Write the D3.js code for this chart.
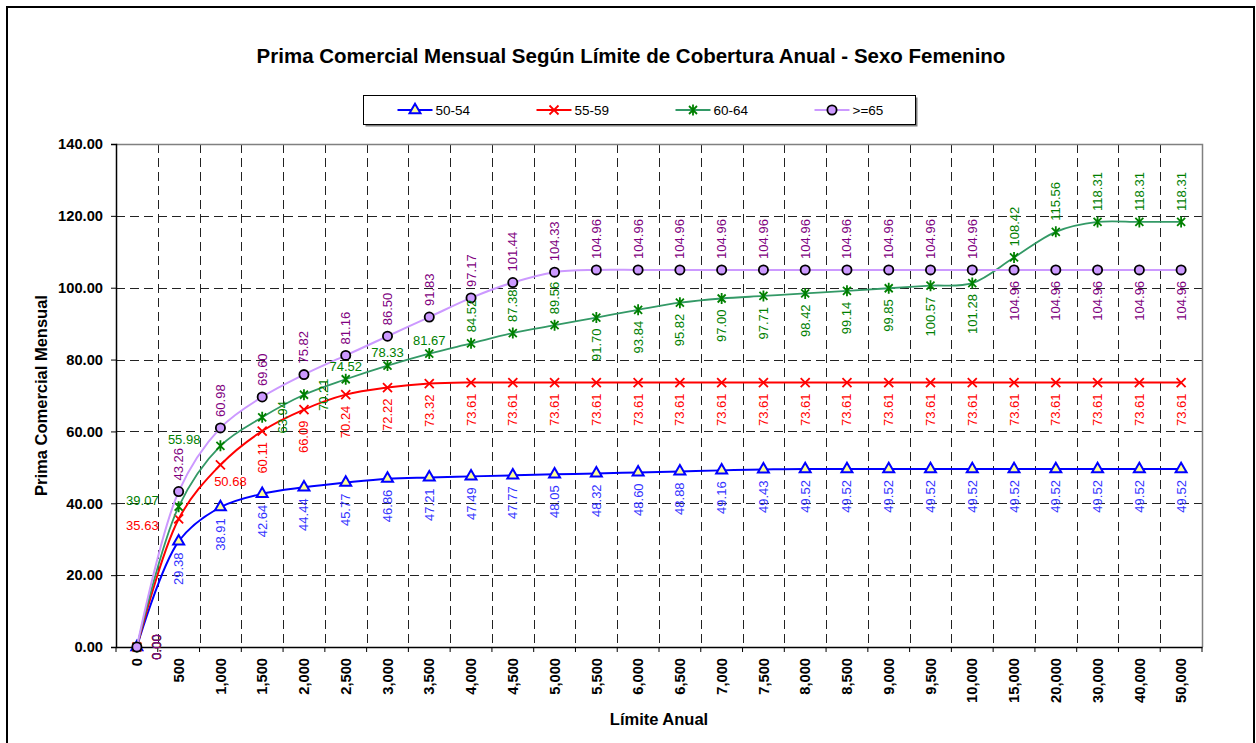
<!DOCTYPE html>
<html>
<head>
<meta charset="utf-8">
<script src="https://cdn.jsdelivr.net/npm/d3@7"></script>
<style>
  body { margin: 0; background: #fff; }
  svg { display: block; font-family: "Liberation Sans", Arial, sans-serif; }
</style>
</head>
<body>
<div class="chart"></div>
<script>
// categories (Límite Anual)
const categories = [0, 500, 1000, 1500, 2000, 2500, 3000, 3500, 4000, 4500, 5000,
  5500, 6000, 6500, 7000, 7500, 8000, 8500, 9000, 9500, 10000,
  15000, 20000, 30000, 40000, 50000];

const seriesNames = ['50-54', '55-59', '60-64', '>=65'];

const values5054 = [0, 29.38, 38.91, 42.64, 44.44, 45.77, 46.86, 47.21, 47.49, 47.77, 48.05,
  48.32, 48.60, 48.88, 49.16, 49.43, 49.52, 49.52, 49.52, 49.52, 49.52,
  49.52, 49.52, 49.52, 49.52, 49.52];
const values5559 = [0, 35.63, 50.68, 60.11, 66.09, 70.24, 72.22, 73.32, 73.61, 73.61, 73.61,
  73.61, 73.61, 73.61, 73.61, 73.61, 73.61, 73.61, 73.61, 73.61, 73.61,
  73.61, 73.61, 73.61, 73.61, 73.61];
const values6064 = [0, 39.07, 55.98, 63.94, 70.21, 74.52, 78.33, 81.67, 84.52, 87.38, 89.56,
  91.70, 93.84, 95.82, 97.00, 97.71, 98.42, 99.14, 99.85, 100.57, 101.28,
  108.42, 115.56, 118.31, 118.31, 118.31];
const values65 = [0, 43.26, 60.98, 69.60, 75.82, 81.16, 86.50, 91.83, 97.17, 101.44, 104.33,
  104.96, 104.96, 104.96, 104.96, 104.96, 104.96, 104.96, 104.96, 104.96, 104.96,
  104.96, 104.96, 104.96, 104.96, 104.96];

const yTicks = [0, 20, 40, 60, 80, 100, 120, 140];

// where excel put each data label
// a=above, b=below, r=right (rotated); L=left-up, l=left-down, A=above, B=below (horizontal)
const labelPos5054 = 'rbbbbbbbbbbbbbbbbbbbbbbbbb'.split('');
const labelPos5559 = 'rlBbbbbbbbbbbbbbbbbbbbbbbb'.split('');
const labelPos6064 = 'rLLrrAAAaaabbbbbbbbbbaaaaa'.split('');
const labelPos65 = 'raaaaaaaaaaaaaaaaaaaabbbbb'.split('');

const w = 1256;
const h = 743;
const plotLeft = 116;
const plotRight = 1202;
const plotTop = 144;
const plotBottom = 647;

const svg = d3.select('.chart').append('svg').attr('width', w).attr('height', h);

// chart border
svg.append('rect')
  .attr('x', 7).attr('y', 7).attr('width', 1247).attr('height', 760)
  .attr('fill', '#fff').attr('stroke', '#000').attr('stroke-width', 2);

svg.append('text')
  .attr('x', 631).attr('y', 63)
  .attr('text-anchor', 'middle')
  .style('font-size', '20.5px').style('font-weight', 'bold')
  .text('Prima Comercial Mensual Según Límite de Cobertura Anual - Sexo Femenino');

// scales
const xScale = d3.scaleBand().domain(categories).range([plotLeft, plotRight]).padding(0);
const yScale = d3.scaleLinear().domain([0, 140]).range([plotBottom, plotTop]);
const bw = xScale.bandwidth();
const cx = (d) => xScale(d) + bw / 2;

// gridlines
const grid = svg.append('g').attr('stroke', '#222').attr('stroke-width', 1).attr('stroke-dasharray', '9,5');
grid.selectAll('.vg').data(categories.slice(1)).enter().append('line')
  .attr('x1', (d) => Math.round(xScale(d)) + 0.5).attr('x2', (d) => Math.round(xScale(d)) + 0.5)
  .attr('y1', plotTop).attr('y2', plotBottom);
grid.selectAll('.hg').data(yTicks.slice(1, -1)).enter().append('line')
  .attr('x1', plotLeft).attr('x2', plotRight)
  .attr('y1', (d) => Math.round(yScale(d)) + 0.5).attr('y2', (d) => Math.round(yScale(d)) + 0.5);

// plot area border (top/right)
svg.append('path')
  .attr('d', `M${plotLeft},${plotTop + 0.5}H${plotRight + 0.5}V${plotBottom}`)
  .attr('fill', 'none').attr('stroke', '#808080').attr('stroke-width', 1.5);

// Y-axis
const yAxis = d3.axisLeft(yScale).tickValues(yTicks).tickSize(5).tickPadding(8)
  .tickFormat(d3.format('.2f'));
const gy = svg.append('g').attr('transform', `translate(${plotLeft},0)`).call(yAxis);
gy.selectAll('text').style('font-size', '14.7px').style('font-weight', 'bold').attr('fill', '#000');
gy.select('.domain').attr('stroke-width', 1.5);

// X-axis
const xAxis = d3.axisBottom(xScale).tickSize(0).tickSizeOuter(0).tickFormat(d3.format(','));
const gx = svg.append('g').attr('transform', `translate(0,${plotBottom})`).call(xAxis);
gx.select('.domain').attr('stroke-width', 1.5);
gx.selectAll('text')
  .attr('transform', 'rotate(-90)')
  .attr('text-anchor', 'end')
  .attr('x', -11).attr('y', 0).attr('dy', '0.35em')
  .style('font-size', '14.7px').style('font-weight', 'bold').attr('fill', '#000');
gx.selectAll('.btick').data(d3.range(categories.length + 1)).enter().append('line')
  .attr('x1', (i) => plotLeft + i * bw).attr('x2', (i) => plotLeft + i * bw)
  .attr('y1', 0).attr('y2', 5).attr('stroke', '#000');

svg.append('text')
  .attr('x', 659).attr('y', 725).attr('text-anchor', 'middle')
  .style('font-size', '16.5px').style('font-weight', 'bold')
  .text('Límite Anual');
svg.append('text')
  .attr('transform', `translate(47,${(plotTop + plotBottom) / 2}) rotate(-90)`)
  .attr('text-anchor', 'middle')
  .style('font-size', '16.5px').style('font-weight', 'bold')
  .text('Prima Comercial Mensual');

// series
const markTri = d3.symbol(d3.symbolTriangle, 52)();
const markX = 'M-4.5,-4.5L4.5,4.5M-4.5,4.5L4.5,-4.5';
const markStar = 'M-4,-4L4,4M-4,4L4,-4M0,-5.5L0,5.5';
const series = [
  { name: seriesNames[0], values: values5054, pos: labelPos5054, line: '#0000ff', lw: 2,
    label: '#3333ff', marker: markTri, mFill: '#ffff99', mStroke: '#0000ff', mw: 2 },
  { name: seriesNames[1], values: values5559, pos: labelPos5559, line: '#ff0000', lw: 2,
    label: '#ff0000', marker: markX, mFill: 'none', mStroke: '#ff0000', mw: 1.8 },
  { name: seriesNames[2], values: values6064, pos: labelPos6064, line: '#339966', lw: 1.8,
    label: '#008000', marker: markStar, mFill: 'none', mStroke: '#008000', mw: 1.8 },
  { name: seriesNames[3], values: values65, pos: labelPos65, line: '#cc99ff', lw: 2,
    label: '#800080', marker: 'circle', mFill: '#cc99ff', mStroke: '#000', mw: 1.8 }
];

const line = d3.line()
  .x((d, i) => cx(categories[i]))
  .y((d) => yScale(d))
  .curve(d3.curveCatmullRom.alpha(0.5));

function drawMarker(g, s, x, y) {
  if (s.marker === 'circle') {
    g.append('circle').attr('cx', x).attr('cy', y).attr('r', 4.6)
      .attr('fill', s.mFill).attr('stroke', s.mStroke).attr('stroke-width', s.mw);
  } else {
    g.append('path').attr('d', s.marker).attr('transform', `translate(${x},${y})`)
      .attr('fill', s.mFill).attr('stroke', s.mStroke).attr('stroke-width', s.mw);
  }
}

series.forEach((s) => {
  const g = svg.append('g');
  g.append('path').datum(s.values).attr('d', line)
    .attr('fill', 'none').attr('stroke', s.line).attr('stroke-width', s.lw);
  s.values.forEach((v, i) => drawMarker(g, s, cx(categories[i]), yScale(v)));
});

// data labels
const fmt = d3.format('.2f');
series.forEach((s) => {
  const g = svg.append('g').style('font-size', '13px').attr('fill', s.label);
  s.values.forEach((v, i) => {
    const px = cx(categories[i]);
    const py = yScale(v);
    const p = s.pos[i];
    const t = g.append('text').text(fmt(v)).attr('dominant-baseline', 'central');
    if (p === 'a') {
      t.attr('transform', `translate(${px},${py - 11}) rotate(-90)`).attr('text-anchor', 'start');
    } else if (p === 'b') {
      t.attr('transform', `translate(${px},${py + 11}) rotate(-90)`).attr('text-anchor', 'end');
    } else if (p === 'r') {
      t.attr('transform', `translate(${px + 20},${py}) rotate(-90)`).attr('text-anchor', 'middle');
    } else if (p === 'L') {
      t.attr('x', px - 20).attr('y', py - 6).attr('text-anchor', 'end');
    } else if (p === 'l') {
      t.attr('x', px - 20).attr('y', py + 7).attr('text-anchor', 'end');
    } else if (p === 'A') {
      t.attr('x', px).attr('y', py - 13).attr('text-anchor', 'middle');
    } else if (p === 'B') {
      t.attr('x', px + 10).attr('y', py + 17).attr('text-anchor', 'middle');
    }
  });
});

// legend
const legend = svg.append('g');
legend.append('rect').attr('x', 365.5).attr('y', 97.5).attr('width', 552).attr('height', 29)
  .attr('fill', '#808080');
legend.append('rect').attr('x', 363.5).attr('y', 95.5).attr('width', 552).attr('height', 29)
  .attr('fill', '#fff').attr('stroke', '#000');
series.forEach((s, i) => {
  const lx = 397.5 + i * 139;
  const ly = 110;
  legend.append('line').attr('x1', lx).attr('x2', lx + 35).attr('y1', ly).attr('y2', ly)
    .attr('stroke', s.line).attr('stroke-width', s.lw);
  drawMarker(legend, s, lx + 17.5, ly);
  legend.append('text').attr('x', lx + 38).attr('y', ly).attr('dominant-baseline', 'central')
    .style('font-size', '13.5px').text(s.name);
});
</script>
</body>
</html>
